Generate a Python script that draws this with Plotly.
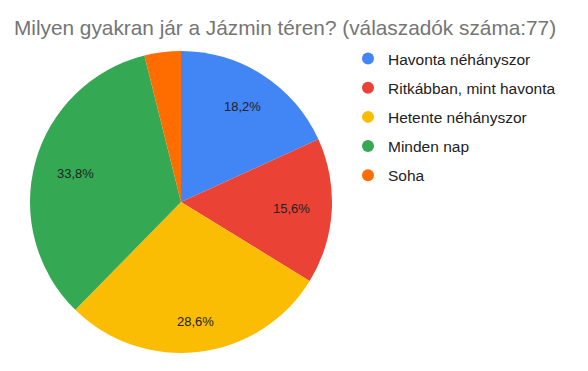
import math
import plotly.graph_objects as go

title = "Milyen gyakran jár a Jázmin téren? (válaszadók száma:77)"
categories = ["Havonta néhányszor", "Ritkábban, mint havonta", "Hetente néhányszor", "Minden nap", "Soha"]
counts = [14, 12, 22, 26, 3]
colors = ["#4285F4", "#EA4335", "#FBBC04", "#34A853", "#FF6D01"]
show_label = [True, True, True, True, False]

W, H = 588, 371
cx, cy, r = 181, 202, 151
label_outer = 130          # radius reached by the far edge of the label box
half_w, half_h = 19, 7     # approximate half size of a label box

fig = go.Figure()
fig.add_trace(go.Pie(
    labels=categories,
    values=counts,
    marker=dict(colors=colors, line=dict(width=0)),
    sort=False,
    direction="clockwise",
    rotation=0,
    textinfo="none",
    showlegend=False,
    hoverinfo="label+percent",
    domain=dict(x=[(cx - r) / W, (cx + r) / W], y=[1 - (cy + r) / H, 1 - (cy - r) / H]),
))

total = sum(counts)
cum = 0
for c, s in zip(counts, show_label):
    mid = (cum + c / 2) / total * 2 * math.pi
    cum += c
    if not s:
        continue
    ext = half_w * abs(math.sin(mid)) + half_h * abs(math.cos(mid))
    rho = label_outer - ext
    px = cx + rho * math.sin(mid)
    py = cy - rho * math.cos(mid)
    pct = f"{c / total * 100:.1f}".replace(".", ",") + "%"
    fig.add_annotation(x=px / W, y=1 - py / H, xref="paper", yref="paper",
                       text=pct, showarrow=False, xanchor="center", yanchor="middle",
                       font=dict(family="Liberation Sans, Arial", size=13, color="#222222"))

for i, (cat, col) in enumerate(zip(categories, colors)):
    fig.add_trace(go.Scatter(
        x=[None], y=[None], mode="markers", name=cat,
        marker=dict(symbol="circle", size=12, color=col),
        legendgroup=str(i), showlegend=True,
    ))

fig.update_layout(
    width=W, height=H,
    margin=dict(l=0, r=0, t=0, b=0),
    paper_bgcolor="white", plot_bgcolor="white",
    title=dict(text=title, x=14 / W, xanchor="left", y=1 - 28 / H, yanchor="middle",
               font=dict(family="Liberation Sans, Arial", size=20.8, color="#757575")),
    xaxis=dict(visible=False), yaxis=dict(visible=False),
    legend=dict(x=348 / W, xanchor="left", y=1 - 42 / H, yanchor="top",
                font=dict(family="Liberation Sans, Arial", size=15.5, color="#222222"),
                tracegroupgap=6, itemsizing="constant", bgcolor="rgba(0,0,0,0)"),
)

fig.write_html("out.html")
